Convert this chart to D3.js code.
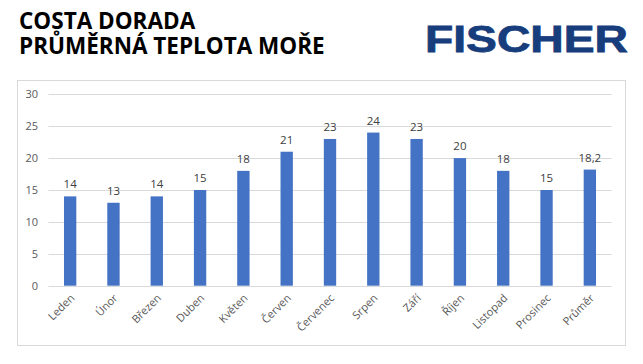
<!DOCTYPE html>
<html><head><meta charset="utf-8">
<script src="https://cdn.jsdelivr.net/npm/d3@7"></script>
<style>
html,body{margin:0;padding:0;background:#fff;}
svg{display:block;}
</style></head>
<body>
<svg id="c" width="643" height="364"></svg>
<script>
const categories = ["Leden","Únor","Březen","Duben","Květen","Červen","Červenec","Srpen","Září","Říjen","Listopad","Prosinec","Průměr"];
const values = [14,13,14,15,18,21,23,24,23,20,18,15,18.2];
const yTicks = [0,5,10,15,20,25,30];
const titleLines = ["COSTA DORADA","PRŮMĚRNÁ TEPLOTA MOŘE"];
const logoText = "FISCHER";

const svg = d3.select("#c");
const font = "'Open Sans', 'Noto Sans', sans-serif";

// Title (one text block, two lines)
const title = svg.append("text")
  .attr("font-family",font).attr("font-weight",700).attr("font-size",22.5)
  .attr("fill","#000");
title.selectAll("tspan").data(titleLines).enter().append("tspan")
  .attr("x",19).attr("y",(d,i)=>29+i*24.5)
  .text(d=>d);

// Logo
svg.append("text").attr("x",425).attr("y",52)
  .attr("font-family","'Liberation Sans', Arial, sans-serif").attr("font-weight",700)
  .attr("font-size",37.5).attr("fill","#173d7c")
  .attr("stroke","#173d7c").attr("stroke-width",0.8)
  .attr("textLength",203).attr("lengthAdjust","spacingAndGlyphs")
  .text(logoText);

// Frame
svg.append("rect").attr("x",17.5).attr("y",80.5).attr("width",608).attr("height",265)
  .attr("fill","none").attr("stroke","#d9d9d9").attr("stroke-width",1);

const x = d3.scaleBand().domain(categories).range([48.5,611.5]).paddingInner(0.715).paddingOuter(0.3575);
const y = d3.scaleLinear().domain([0,30]).range([285.7,94.3]);

// Grid
svg.append("g").selectAll("line").data(yTicks).enter().append("line")
  .attr("x1",48.5).attr("x2",611.5)
  .attr("y1",d=>Math.round(y(d))+0.5).attr("y2",d=>Math.round(y(d))+0.5)
  .attr("stroke","#d9d9d9").attr("stroke-width",1);

// Y axis labels
const yAxis = d3.axisLeft(y).tickValues(yTicks).tickSize(0).tickPadding(0).tickFormat(d3.format("d"));
const gy = svg.append("g").attr("transform","translate(38,0)").call(yAxis);
gy.select(".domain").remove();
gy.selectAll("text").attr("font-family",font).attr("font-size",11).attr("fill","#595959");

// Bars
svg.append("g").selectAll("rect").data(values).enter().append("rect")
  .attr("x",(d,i)=>x(categories[i])).attr("width",x.bandwidth())
  .attr("y",d=>y(d)).attr("height",d=>y(0)-y(d))
  .attr("fill","#4472c4");

// Value labels
const fmt = v => Number.isInteger(v) ? String(v) : String(v).replace(".",",");
svg.append("g").selectAll("text").data(values).enter().append("text")
  .attr("x",(d,i)=>x(categories[i])+x.bandwidth()/2)
  .attr("y",d=>y(d)-8)
  .attr("text-anchor","middle")
  .attr("font-family",font).attr("font-size",11.5).attr("fill","#404040")
  .text(fmt);

// X axis labels
const xAxis = d3.axisBottom(x).tickSize(0).tickPadding(0);
const gx = svg.append("g").attr("transform","translate(0,285.7)").call(xAxis);
gx.select(".domain").remove();
gx.selectAll("text")
  .attr("font-family",font).attr("font-size",11).attr("fill","#595959")
  .attr("text-anchor","end").attr("dy",null).attr("y",0)
  .attr("transform","translate(5,13) rotate(-45)");
</script>
</body></html>
